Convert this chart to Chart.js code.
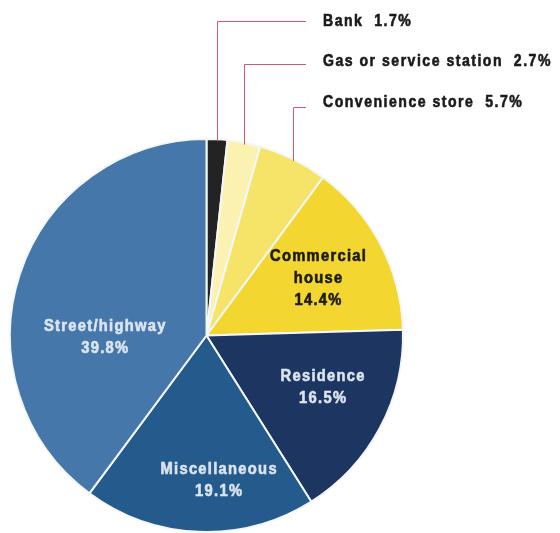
<!DOCTYPE html>
<html>
<head>
<meta charset="utf-8">
<title>Location breakdown</title>
<script src="https://cdn.jsdelivr.net/npm/chart.js@4"></script>
<style>
  html, body { margin: 0; padding: 0; background: #fff; overflow: hidden; }
  #wrap { width: 560px; height: 533px; position: relative; }
</style>
</head>
<body>
<div id="wrap"><canvas id="pie"></canvas></div>
<script>
// slices, clockwise from 12 o'clock
const categories = ['Bank', 'Gas or service station', 'Convenience store', 'Commercial\nhouse', 'Residence', 'Miscellaneous', 'Street/highway'];
const shares = [1.7, 2.7, 5.7, 14.4, 16.5, 19.1, 39.8];
const sliceColors = ['#232323', '#fbf2b2', '#f6e468', '#f3d630', '#1d3561', '#245b8c', '#4677aa'];

// the three thin slices get call-out labels, the rest are written inside
const calloutRows = { 0: 21, 1: 64, 2: 107 };
const insidePlacement = {
  3: { angle: 63, r: 0.64, color: '#1b1b14' },
  4: { angle: 114, r: 0.65, color: '#dbe4ef' },
  5: { angle: 175, r: 0.74, color: '#dbe4ef' },
  6: { angle: 269, r: 0.515, color: '#dde6f0' }
};

const fmt = v => v.toFixed(1) + '%';

// narrow, heavy text: squeeze horizontally and thicken with a hairline stroke
function heavyText(ctx, text, x, y, squeeze) {
  ctx.save();
  ctx.translate(x, y);
  ctx.scale(squeeze, 1);
  ctx.strokeStyle = ctx.fillStyle;
  ctx.lineWidth = 0.6;
  ctx.fillText(text, 0, 0);
  ctx.strokeText(text, 0, 0);
  ctx.restore();
}

const labelPlugin = {
  id: 'sliceLabels',
  afterDatasetsDraw(chart) {
    const ctx = chart.ctx;
    const meta = chart.getDatasetMeta(0);
    ctx.save();

    // call-outs: vertical leader from the rim, then across to the text
    ctx.strokeStyle = '#cf5a72';
    ctx.lineWidth = 1;
    ctx.textBaseline = 'middle';
    Object.keys(calloutRows).forEach(k => {
      const i = +k;
      const arc = meta.data[i];
      const mid = (arc.startAngle + arc.endAngle) / 2;
      const ex = arc.x + Math.cos(mid) * arc.outerRadius;
      const ey = arc.y + Math.sin(mid) * arc.outerRadius;
      const rowY = calloutRows[i];
      ctx.strokeStyle = '#cf5a72';
      ctx.lineWidth = 1;
      ctx.beginPath();
      ctx.moveTo(Math.round(ex) + 0.5, ey + 2);
      ctx.lineTo(Math.round(ex) + 0.5, rowY + 0.5);
      ctx.lineTo(306, rowY + 0.5);
      ctx.stroke();
      ctx.fillStyle = '#1a1a1a';
      ctx.font = 'bold 16px "Liberation Sans", Arial, sans-serif';
      ctx.letterSpacing = '1.7px';
      ctx.textAlign = 'left';
      heavyText(ctx, categories[i] + '  ' + fmt(shares[i]), 323, rowY + (i === 0 ? 1 : i === 1 ? -2 : -4), 0.88);
    });

    // labels inside the larger slices
    ctx.font = 'bold 16px "Liberation Sans", Arial, sans-serif';
    ctx.letterSpacing = '1.4px';
    ctx.textAlign = 'center';
    Object.keys(insidePlacement).forEach(k => {
      const i = +k;
      const arc = meta.data[i];
      const p = insidePlacement[i];
      const a = (p.angle - 90) * Math.PI / 180;
      const cx = arc.x + Math.cos(a) * arc.outerRadius * p.r;
      const cy = arc.y + Math.sin(a) * arc.outerRadius * p.r;
      const lines = categories[i].split('\n').concat(fmt(shares[i]));
      const lh = 22;
      const top = cy - (lines.length - 1) * lh / 2;
      ctx.fillStyle = p.color;
      lines.forEach((t, j) => heavyText(ctx, t, cx, top + j * lh, 0.92));
    });
    ctx.restore();
  }
};

new Chart(document.getElementById('pie'), {
  type: 'pie',
  data: {
    labels: categories,
    datasets: [{
      data: shares,
      backgroundColor: sliceColors,
      borderColor: '#f3f7fa',
      borderWidth: 2
    }]
  },
  options: {
    responsive: true,
    maintainAspectRatio: false,
    animation: false,
    layout: { padding: { left: 9, right: 156, top: 138, bottom: 0 } },
    plugins: {
      legend: { display: false },
      tooltip: { enabled: false }
    }
  },
  plugins: [labelPlugin]
});
</script>
</body>
</html>
